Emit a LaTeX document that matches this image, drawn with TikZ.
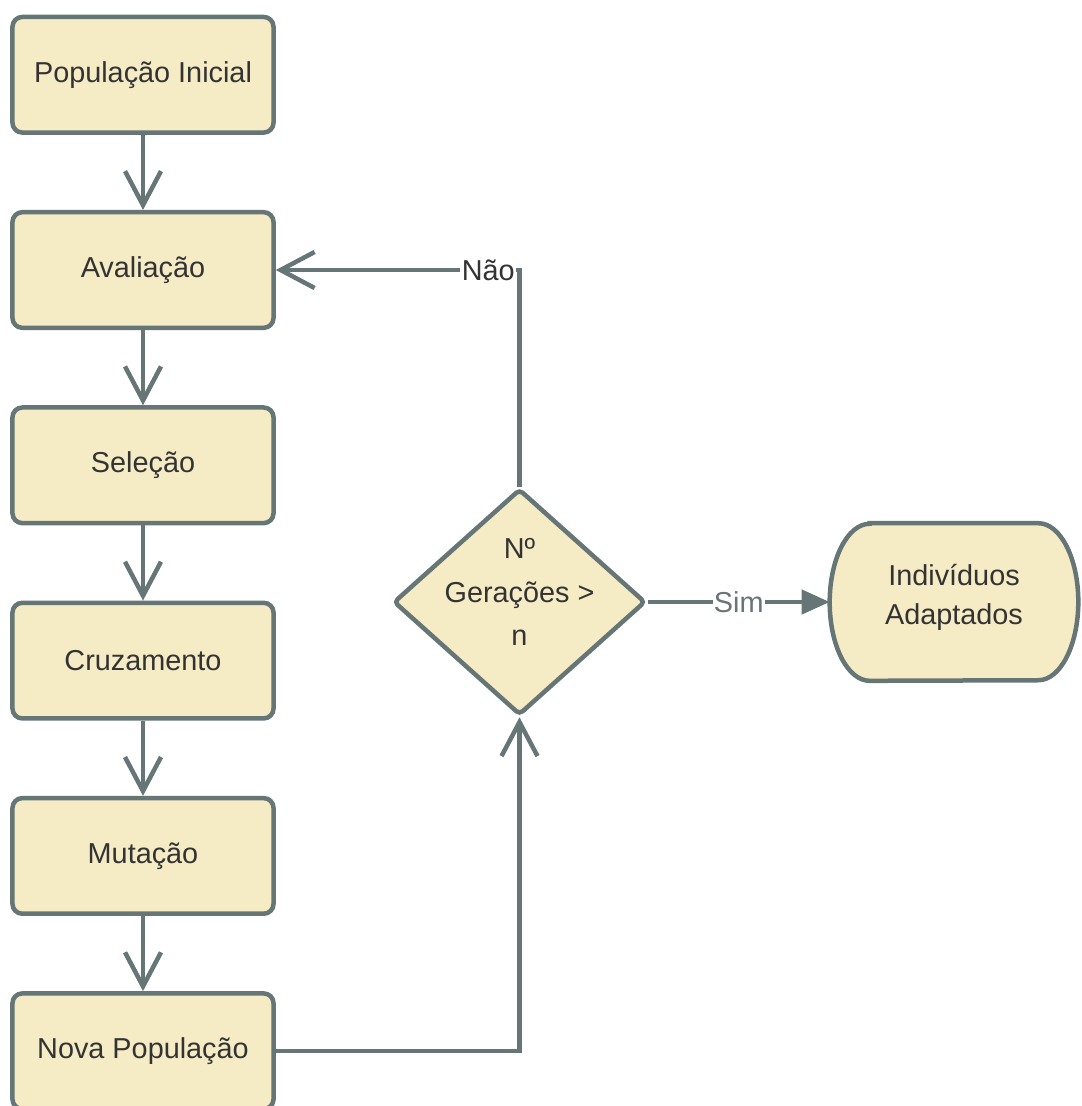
\documentclass[tikz,border=0pt]{standalone}
\usepackage{fontspec}
\setmainfont{Liberation Sans}
\usetikzlibrary{arrows.meta,shapes.geometric,backgrounds}
\definecolor{caixa}{HTML}{F5EBC5}
\definecolor{borda}{HTML}{667575}
\definecolor{texto}{HTML}{333333}
\tikzset{
    rotulo/.style={text=texto, font=\fontsize{20.5}{31}\selectfont},
    linha/.style={draw=borda, line width=3.2pt},
    etapa/.style={rotulo, draw=borda, fill=caixa, line width=3.2pt, rounded corners=7pt,
        minimum width=6.525cm, minimum height=2.89cm, inner sep=0pt},
    decisao/.style={diamond, draw=borda, fill=caixa, line width=3.2pt, rounded corners=3pt,
        minimum width=6.3cm, minimum height=5.65cm, inner sep=0pt},
    fim/.style={minimum width=6.2cm, minimum height=3.925cm, inner sep=0pt},
    seta/.style={linha, -{Straight Barb[length=0.85cm, width=0.9cm]}},
    setacheia/.style={linha, -{Triangle[length=0.7cm, width=0.6cm]}}
}
\begin{document}
\begin{tikzpicture}[x=0.025cm, y=-0.025cm]
    \useasboundingbox (0,0) rectangle (1081,1106);
    %etapas do algoritmo
    \node[etapa] (inicial) at (143,74.75) {População Inicial};
    \node[etapa] (avaliacao) at (143,270) {Avaliação};
    \node[etapa] (selecao) at (143,465.3) {Seleção};
    \node[etapa] (cruzamento) at (143,660.6) {Cruzamento};
    \node[etapa] (mutacao) at (143,855.9) {Mutação};
    \node[etapa] (nova) at (143,1051.2) {Nova População};
    %teste de parada
    \node[decisao, label={[rotulo, align=center, yshift=7pt]center:Nº\\Gerações >\\n}] (geracoes) at (519.5,602) {};
    %resultado
    \node[fim, label={[rotulo, align=center, font=\fontsize{20.5}{27.7}\selectfont, yshift=3.5pt]center:Indivíduos\\Adaptados}] (adaptados) at (954,602) {};
    \begin{scope}[on background layer]
        \filldraw[linha, fill=caixa] ([xshift=1cm]adaptados.north west) -- ([xshift=-1cm]adaptados.north east)
            arc[start angle=90, end angle=-90, x radius=1cm, y radius=1.9625cm]
            -- ([xshift=1cm]adaptados.south west)
            arc[start angle=270, end angle=90, x radius=1cm, y radius=1.9625cm] -- cycle;
    \end{scope}
    %setas
    \foreach \a/\b in {inicial/avaliacao, avaliacao/selecao, selecao/cruzamento, cruzamento/mutacao, mutacao/nova}
        \draw[seta] (\a) -- (\b);
    \draw[seta] (geracoes.north) |- node[pos=0.564, rotulo, fill=white, inner sep=1pt] {Não} (avaliacao.east);
    \draw[setacheia] (geracoes.east) -- node[rotulo, text=borda, fill=white, inner sep=1pt] {Sim} (adaptados.west);
    \draw[seta] (nova.east) -| (geracoes.south);
\end{tikzpicture}
\end{document}
